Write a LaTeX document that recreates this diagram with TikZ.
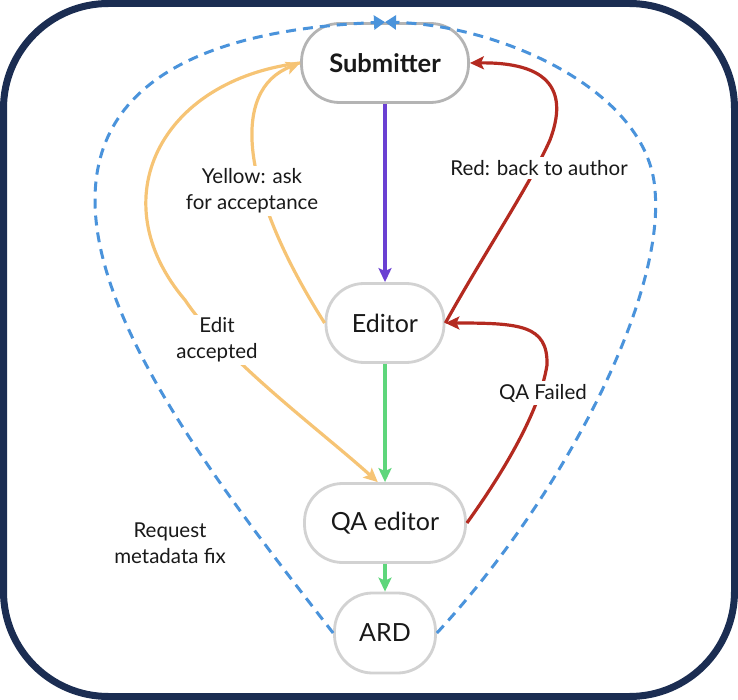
\documentclass[tikz,border=0pt]{standalone}
\usepackage{fontspec}
\setmainfont{Lato}
\usepackage{tikz}
\usetikzlibrary{arrows.meta}
\definecolor{framenavy}{HTML}{1B2D52}
\definecolor{boxgray}{HTML}{D2D2D2}
\definecolor{subgray}{HTML}{B4B4B4}
\definecolor{flowpurple}{HTML}{6A40D2}
\definecolor{flowgreen}{HTML}{5ED67B}
\definecolor{flowred}{HTML}{B42A20}
\definecolor{flowyellow}{HTML}{F6C475}
\definecolor{fixblue}{HTML}{4A93DB}
\tikzstyle{stage} = [draw=boxgray, line width=2.8pt, rounded corners=38pt, minimum height=79pt, fill=white, text=black!90, font=\fontsize{25}{30}\selectfont]
\tikzstyle{lbl} = [fill=white, align=center, inner sep=3pt, text=black!90, font=\fontsize{20.5}{26}\selectfont]
\tikzstyle{flow} = [line width=3.2pt, -{Stealth[length=14pt,width=13pt,inset=3pt]}]
\tikzstyle{metafix} = [fixblue, line width=3pt, dash pattern=on 10pt off 7pt, -{Triangle[length=11pt,width=14pt]}]

\begin{document}
\begin{tikzpicture}[x=1pt,y=-1pt]

	\useasboundingbox (0,0) rectangle (738,700);
	\draw[framenavy, line width=7pt, rounded corners=105pt] (3.5,3.5) rectangle (734.5,696.5);

	\node[stage, draw=subgray, minimum width=167pt, font=\bfseries\fontsize{25.5}{30}\selectfont] (sub) at (385,63) {Submitter};
	\node[stage, minimum width=118pt] (ed) at (385,323) {Editor};
	\node[stage, minimum width=161pt] (qa) at (385,523) {QA editor};
	\node[stage, minimum width=101pt, minimum height=80pt] (ard) at (385,633) {ARD};

	\draw[flow, flowpurple] (sub.south) -- (ed.north);
	\draw[flow, flowgreen] (ed.south) -- (qa.north);
	\draw[flow, flowgreen] (qa.south) -- (ard.north);

	\draw[flow, flowred] (ed.east) .. controls (480,260) and (530,185) .. (550,140)
		.. controls (565,100) and (560,62) .. (sub.east);
	\draw[flow, flowred] (qa.east) .. controls (505,470) and (540,410) .. (547,365)
		.. controls (548,325) and (520,323) .. (ed.east);

	\draw[flow, flowyellow] (ed.west) .. controls (240,190) and (230,90) .. (sub.west);
	\draw[flow, flowyellow] (sub.west) .. controls (160,80) and (100,200) .. (185,300)
		.. controls (225,360) and (320,430) .. (qa.100);

	\draw[metafix] (ard.west) .. controls (230,500) and (95,330) .. (95,200)
		.. controls (95,60) and (250,28) .. (sub.north);
	\draw[metafix] (ard.east) .. controls (560,500) and (665,300) .. (655,190)
		.. controls (648,90) and (500,25) .. (sub.north);

	\node[lbl] (askl) at (252,191) {Yellow: ask\\for acceptance};
	\node[lbl] (accl) at (217,340) {Edit\\accepted};
	\node[lbl] (redl) at (539,168) {Red: back to author};
	\node[lbl] (qafl) at (543,393) {QA Failed};
	\node[lbl, fill=none] (fixl) at (170,543) {Request\\metadata fix};

\end{tikzpicture}
\end{document}
